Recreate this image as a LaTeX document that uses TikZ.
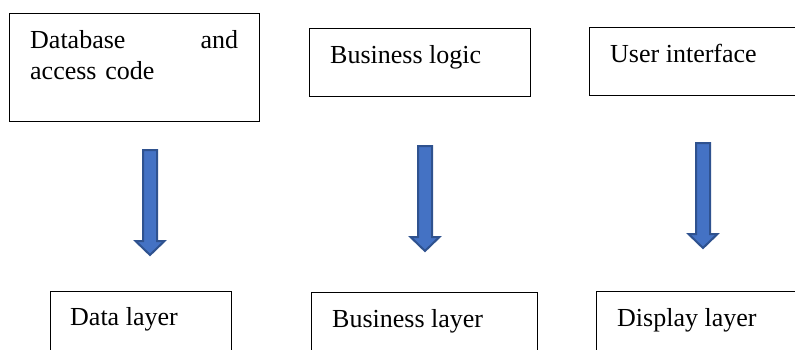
\documentclass[tikz,border=0pt]{standalone}
\usepackage{fontspec}
\setmainfont{Liberation Serif}
\begin{document}
\begin{tikzpicture}[x=1pt,y=1pt,
  box/.style={draw=black,line width=1.1pt,rectangle,inner sep=0pt,anchor=north west},
  lbl/.style={inner sep=0pt,anchor=base west,font=\fontsize{26}{31}\selectfont},
  blk/.style={fill={rgb,255:red,68;green,114;blue,196},draw={rgb,255:red,47;green,82;blue,143},line width=2pt,line join=miter}]
\useasboundingbox (0,0) rectangle (795,-349);
\clip (0,0) rectangle (795,-349);
% top boxes
\node[box,minimum width=250pt,minimum height=108pt] (db) at (9,-13) {};
\node[box,minimum width=221pt,minimum height=68pt] (bl) at (309,-28) {};
\node[box,minimum width=230pt,minimum height=68pt] (ui) at (589,-27) {};
% bottom boxes
\node[box,minimum width=181pt,minimum height=90pt] (dl) at (50,-291) {};
\node[box,minimum width=226pt,minimum height=90pt] (bsl) at (311,-292) {};
\node[box,minimum width=230pt,minimum height=90pt] (dsl) at (596,-291) {};
% texts
\node[lbl,text width=208pt,align=left] (tdb) at (30,-48) {Database\hfill and\\access code};
\node[lbl] (tbl) at (330,-63) {Business logic};
\node[lbl] (tui) at (610,-62) {User interface};
\node[lbl] (tdl) at (70,-325) {Data layer};
\node[lbl] (tbsl) at (332,-327) {Business layer};
\node[lbl] (tdsl) at (617,-326) {Display layer};
% block arrows
\newcommand\blockarrow[3]{%
  \draw[blk] (#1-7,-#2) -- (#1+7,-#2) -- (#1+7,-#3+14) -- (#1+14.5,-#3+14)
     -- (#1,-#3) -- (#1-14.5,-#3+14) -- (#1-7,-#3+14) -- cycle;}
\blockarrow{150}{150}{255}
\blockarrow{425}{146}{251}
\blockarrow{703}{143}{248}
\end{tikzpicture}
\end{document}
